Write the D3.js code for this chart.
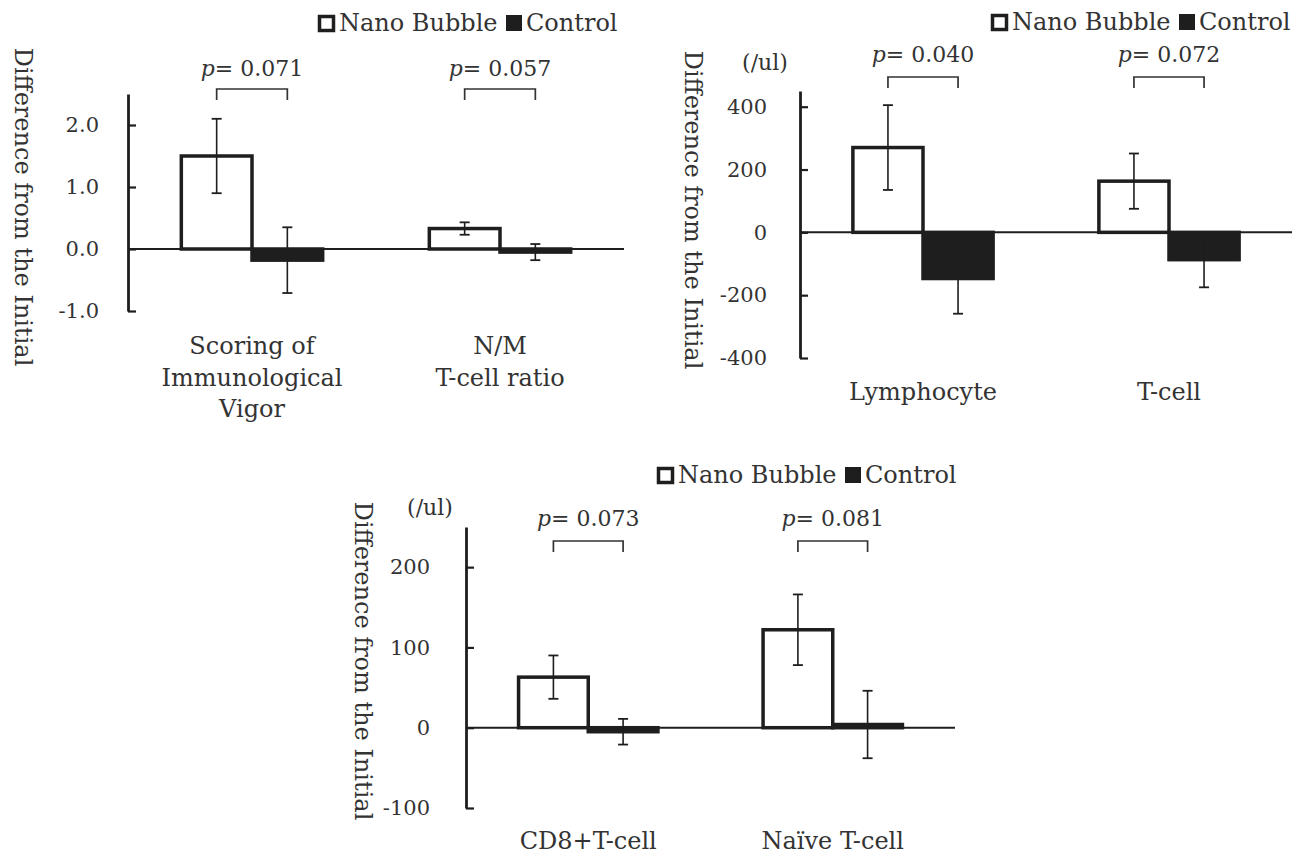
<!DOCTYPE html>
<head>
    <meta charset="utf-8">
    <style>
        body { margin: 0; background: #fff; }
        svg text { font-family: "DejaVu Serif", serif; fill: #333; }
    </style>
    <script src="https://cdn.jsdelivr.net/npm/d3@7"></script>
</head>
<body>
<div id="chart"></div>
<script>

    // series names
    var seriesNames = ["Nano Bubble", "Control"];

    // panel 1
    var p1Categories = [["Scoring of", "Immunological", "Vigor"], ["N/M", "T-cell ratio"]];
    var p1Nano = [1.50, 0.33];
    var p1NanoSD = [0.60, 0.10];
    var p1Control = [-0.18, -0.05];
    var p1ControlSD = [0.53, 0.13];
    var p1Ticks = [-1, 0, 1, 2];
    var p1PValues = ["0.071", "0.057"];

    // panel 2
    var p2Categories = [["Lymphocyte"], ["T-cell"]];
    var p2Nano = [270, 163];
    var p2NanoSD = [135, 88];
    var p2Control = [-147, -87];
    var p2ControlSD = [112, 88];
    var p2Ticks = [-400, -200, 0, 200, 400];
    var p2PValues = ["0.040", "0.072"];

    // panel 3
    var p3Categories = [["CD8+T-cell"], ["Naïve T-cell"]];
    var p3Nano = [63, 122];
    var p3NanoSD = [27, 44];
    var p3Control = [-5, 4];
    var p3ControlSD = [16, 42];
    var p3Ticks = [-100, 0, 100, 200];
    var p3PValues = ["0.073", "0.081"];

    var ink = "#1e1e1e";

    var svg = d3.select("#chart")
                .append("svg")
                .attr("width", 1311)
                .attr("height", 858);

    function drawPanel(cfg) {

        var g = svg.append("g");

        var y = d3.scaleLinear()
                  .domain(cfg.domain)
                  .range([cfg.bottom, cfg.top]);

        var x0 = d3.scaleBand()
                   .domain(d3.range(cfg.categories.length))
                   .range([cfg.left, cfg.right])
                   .paddingInner(0.43)
                   .paddingOuter(0.215);

        var x1 = d3.scaleBand()
                   .domain(seriesNames)
                   .range([0, x0.bandwidth()]);

        var rows = cfg.categories.map(function(c, i) {
            return [
                { series: seriesNames[0], cat: i, v: cfg.nano[i], sd: cfg.nanoSD[i] },
                { series: seriesNames[1], cat: i, v: cfg.control[i], sd: cfg.controlSD[i] }
            ];
        });

        // zero line
        g.append("line")
         .attr("x1", cfg.left).attr("x2", cfg.right)
         .attr("y1", y(0)).attr("y2", y(0))
         .attr("stroke", ink)
         .attr("stroke-width", 2);

        var groups = g.selectAll(".grp")
                      .data(rows)
                      .enter()
                      .append("g")
                      .attr("transform", function(d, i) { return "translate(" + x0(i) + ",0)"; });

        var items = groups.selectAll(".item")
                          .data(function(d) { return d; })
                          .enter()
                          .append("g");

        items.append("rect")
             .attr("x", function(d) { return x1(d.series); })
             .attr("width", x1.bandwidth())
             .attr("y", function(d) { return y(Math.max(0, d.v)); })
             .attr("height", function(d) { return Math.abs(y(d.v) - y(0)); })
             .attr("fill", function(d) { return d.series === seriesNames[0] ? "#fff" : ink; })
             .attr("stroke", ink)
             .attr("stroke-width", 3.5);

        // error bars
        items.append("line")
             .attr("x1", function(d) { return x1(d.series) + x1.bandwidth() / 2; })
             .attr("x2", function(d) { return x1(d.series) + x1.bandwidth() / 2; })
             .attr("y1", function(d) { return y(d.v - d.sd); })
             .attr("y2", function(d) { return y(d.v + d.sd); })
             .attr("stroke", ink)
             .attr("stroke-width", 1.6);

        [-1, 1].forEach(function(s) {
            items.append("line")
                 .attr("x1", function(d) { return x1(d.series) + x1.bandwidth() / 2 - 5; })
                 .attr("x2", function(d) { return x1(d.series) + x1.bandwidth() / 2 + 5; })
                 .attr("y1", function(d) { return y(d.v + s * d.sd); })
                 .attr("y2", function(d) { return y(d.v + s * d.sd); })
                 .attr("stroke", ink)
                 .attr("stroke-width", 1.8);
        });

        // p-value brackets
        groups.append("path")
              .attr("d", function(d) {
                  var a = x1(seriesNames[0]) + x1.bandwidth() / 2,
                      b = x1(seriesNames[1]) + x1.bandwidth() / 2;
                  return "M" + a + "," + (cfg.bracketY + 11) + "V" + cfg.bracketY +
                         "H" + b + "V" + (cfg.bracketY + 11);
              })
              .attr("fill", "none")
              .attr("stroke", "#333")
              .attr("stroke-width", 1.7);

        var pt = groups.append("text")
                       .attr("x", x0.bandwidth() / 2)
                       .attr("y", cfg.pY)
                       .attr("text-anchor", "middle")
                       .style("font-size", "22px");
        pt.append("tspan").style("font-style", "italic").text("p");
        pt.append("tspan").text(function(d, i) { return "= " + cfg.pValues[i]; });

        // category labels
        groups.each(function(d, i) {
            d3.select(this).selectAll(".cat")
              .data(cfg.categories[i])
              .enter()
              .append("text")
              .attr("x", x0.bandwidth() / 2)
              .attr("y", function(t, j) { return cfg.catY + j * 31.5; })
              .attr("text-anchor", "middle")
              .style("font-size", "24px")
              .text(function(t) { return t; });
        });

        // y axis, ticks pointing inward
        var axis = g.append("g")
                    .attr("transform", "translate(" + cfg.left + ",0)")
                    .call(d3.axisLeft(y)
                            .tickValues(cfg.ticks)
                            .tickFormat(cfg.format)
                            .tickSizeInner(-8)
                            .tickSizeOuter(0)
                            .tickPadding(cfg.pad));
        axis.select(".domain").attr("stroke", ink).attr("stroke-width", 2.8);
        axis.selectAll(".tick line").attr("stroke", ink).attr("stroke-width", 2.2);
        axis.selectAll(".tick text")
            .attr("fill", "#333")
            .style("font-family", "DejaVu Serif")
            .style("font-size", "21px");

        // axis title
        g.append("text")
         .attr("transform", "translate(" + cfg.titleX + "," + cfg.titleY + ") rotate(90)")
         .attr("text-anchor", "middle")
         .attr("dy", "0.35em")
         .style("font-size", "24px")
         .text("Difference from the Initial");

        if (cfg.unit) {
            g.append("text")
             .attr("x", cfg.unitX)
             .attr("y", cfg.unitY)
             .attr("text-anchor", "middle")
             .style("font-size", "22px")
             .text("(/ul)");
        }

        // legend
        var lg = g.append("g").attr("transform", "translate(" + cfg.legendX + "," + cfg.legendY + ")");
        lg.append("rect")
          .attr("x", 1.5).attr("y", -14.5).attr("width", 14).attr("height", 14)
          .attr("fill", "#fff").attr("stroke", ink).attr("stroke-width", 3.5);
        lg.append("text").attr("x", 21).attr("y", 0).style("font-size", "24px").text(seriesNames[0]);
        lg.append("rect")
          .attr("x", 188).attr("y", -16).attr("width", 16).attr("height", 16)
          .attr("fill", ink);
        lg.append("text").attr("x", 208).attr("y", 0).style("font-size", "24px").text(seriesNames[1]);
    }

    drawPanel({
        categories: p1Categories, nano: p1Nano, nanoSD: p1NanoSD,
        control: p1Control, controlSD: p1ControlSD, ticks: p1Ticks, pValues: p1PValues,
        domain: [-1, 2.5], top: 94, bottom: 311, left: 128, right: 624,
        format: function(d) { return d.toFixed(1); }, pad: 29,
        bracketY: 89, pY: 76, catY: 354,
        titleX: 23, titleY: 207,
        legendX: 318, legendY: 31
    });

    drawPanel({
        categories: p2Categories, nano: p2Nano, nanoSD: p2NanoSD,
        control: p2Control, controlSD: p2ControlSD, ticks: p2Ticks, pValues: p2PValues,
        domain: [-400, 450], top: 91, bottom: 358, left: 800, right: 1292,
        format: function(d) { return String(d); }, pad: 33,
        bracketY: 77, pY: 62, catY: 400,
        titleX: 693, titleY: 210,
        unit: true, unitX: 765, unitY: 70,
        legendX: 991, legendY: 30
    });

    drawPanel({
        categories: p3Categories, nano: p3Nano, nanoSD: p3NanoSD,
        control: p3Control, controlSD: p3ControlSD, ticks: p3Ticks, pValues: p3PValues,
        domain: [-100, 250], top: 527, bottom: 808, left: 466, right: 955,
        format: function(d) { return String(d); }, pad: 36,
        bracketY: 541, pY: 526, catY: 849,
        titleX: 363, titleY: 661,
        unit: true, unitX: 430, unitY: 515,
        legendX: 657, legendY: 483
    });

</script>
</body>
